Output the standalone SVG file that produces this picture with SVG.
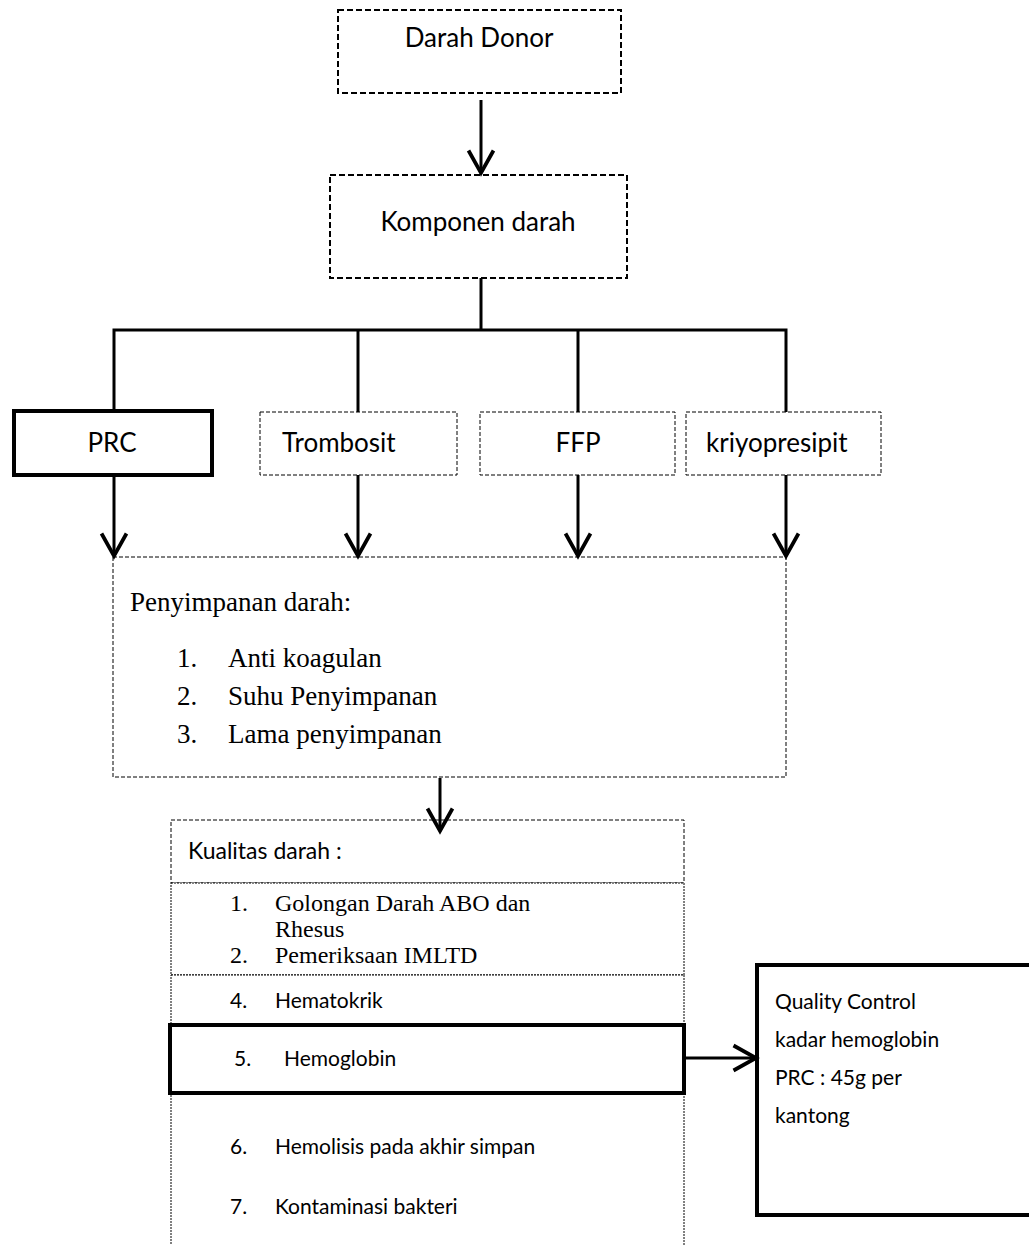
<svg xmlns="http://www.w3.org/2000/svg" width="1029" height="1245" viewBox="0 0 1029 1245">
<style>
.bg{fill:#fff}
.dash2{fill:#fff;stroke:#000;stroke-width:2;stroke-dasharray:6 3}
.dash1{fill:#fff;stroke:#000;stroke-width:1;stroke-dasharray:4 2}
.dot1{fill:#fff;stroke:#000;stroke-width:1;stroke-dasharray:2 1}
.thick{fill:#fff;stroke:#000;stroke-width:4}
.conn{fill:none;stroke:#000;stroke-width:3}
.sans{font-family:Lato,"Open Sans","Liberation Sans",sans-serif;fill:#000}
.serif{font-family:"Liberation Serif","Times New Roman",serif;fill:#000}
.big{font-size:26px}
.mid{font-size:21px}
</style>
<defs>
<marker id="arr" markerUnits="userSpaceOnUse" orient="auto" refX="0" refY="0" markerWidth="30" markerHeight="30" viewBox="-20 -12 22 24" overflow="visible">
<path d="M-18,-10 L0,0 L-18,10" fill="none" stroke="#000" stroke-width="3"/>
</marker>
</defs>
<rect class="bg" x="0" y="0" width="1029" height="1245"/>

<g id="darah-donor">
<rect class="dash2" x="338" y="10" width="283" height="83"/>
<text class="sans big" x="479" y="47" text-anchor="middle">Darah Donor</text>
</g>
<g id="komponen-darah">
<rect class="dash2" x="330" y="175" width="297" height="103"/>
<text class="sans big" x="478" y="231" text-anchor="middle">Komponen darah</text>
</g>
<g id="prc">
<rect class="thick" x="14" y="411" width="198" height="64"/>
<text class="sans big" x="112" y="452" text-anchor="middle">PRC</text>
</g>
<g id="trombosit">
<rect class="dash1" x="260" y="412" width="197" height="63"/>
<text class="sans big" x="282" y="452">Trombosit</text>
</g>
<g id="ffp">
<rect class="dash1" x="480" y="412" width="195" height="63"/>
<text class="sans big" x="578" y="452" text-anchor="middle">FFP</text>
</g>
<g id="kriyopresipit">
<rect class="dash1" x="686" y="412" width="195" height="63"/>
<text class="sans big" x="706" y="452">kriyopresipit</text>
</g>
<g id="penyimpanan">
<rect class="dash1" x="113" y="557" width="673" height="220"/>
<text class="serif" font-size="27" x="130" y="611">Penyimpanan darah:</text>
<text class="serif" font-size="27" x="177" y="667">1.</text>
<text class="serif" font-size="27" x="228" y="667">Anti koagulan</text>
<text class="serif" font-size="27" x="177" y="705">2.</text>
<text class="serif" font-size="27" x="228" y="705">Suhu Penyimpanan</text>
<text class="serif" font-size="27" x="177" y="743">3.</text>
<text class="serif" font-size="27" x="228" y="743">Lama penyimpanan</text>
</g>
<g id="kualitas">
<rect class="dash1" x="171" y="820" width="513" height="63"/>
<text class="sans" font-size="23" x="188" y="859">Kualitas darah :</text>
</g>
<g id="kualitas-1-2">
<rect class="dot1" x="171" y="883" width="513" height="92"/>
<text class="serif" font-size="24" x="230" y="911">1.</text>
<text class="serif" font-size="24" x="275" y="911">Golongan Darah ABO dan</text>
<text class="serif" font-size="24" x="275" y="937">Rhesus</text>
<text class="serif" font-size="24" x="230" y="963">2.</text>
<text class="serif" font-size="24" x="275" y="963">Pemeriksaan IMLTD</text>
</g>
<g id="kualitas-4">
<rect class="dot1" x="171" y="975" width="513" height="50"/>
<text class="sans mid" x="230" y="1008">4.</text>
<text class="sans mid" x="275" y="1008">Hematokrik</text>
</g>
<g id="kualitas-6-7">
<rect class="dot1" x="171" y="1093" width="513" height="170"/>
<text class="sans mid" x="230" y="1154">6.</text>
<text class="sans mid" x="275" y="1154">Hemolisis pada akhir simpan</text>
<text class="sans mid" x="230" y="1214">7.</text>
<text class="sans mid" x="275" y="1214">Kontaminasi bakteri</text>
</g>
<g id="hemoglobin">
<rect class="thick" x="170" y="1025" width="514" height="68"/>
<text class="sans mid" x="234" y="1066">5.</text>
<text class="sans mid" x="284" y="1066">Hemoglobin</text>
</g>
<g id="quality-control">
<rect class="thick" x="757" y="965" width="290" height="250"/>
<text class="sans mid" x="775" y="1009">Quality Control</text>
<text class="sans mid" x="775" y="1047">kadar hemoglobin</text>
<text class="sans mid" x="775" y="1085">PRC : 45g per</text>
<text class="sans mid" x="775" y="1123">kantong</text>
</g>

<g id="connectors">
<line class="conn" x1="481" y1="100" x2="481" y2="173" marker-end="url(#arr)"/>
<polyline class="conn" points="481,278 481,330"/>
<polyline class="conn" points="114,410 114,330 786,330 786,412"/>
<line class="conn" x1="358" y1="330" x2="358" y2="412"/>
<line class="conn" x1="578" y1="330" x2="578" y2="412"/>
<line class="conn" x1="114" y1="475" x2="114" y2="556" marker-end="url(#arr)"/>
<line class="conn" x1="358" y1="475" x2="358" y2="556" marker-end="url(#arr)"/>
<line class="conn" x1="578" y1="475" x2="578" y2="556" marker-end="url(#arr)"/>
<line class="conn" x1="786" y1="475" x2="786" y2="556" marker-end="url(#arr)"/>
<line class="conn" x1="440" y1="778" x2="440" y2="831" marker-end="url(#arr)"/>
<line class="conn" x1="684" y1="1058" x2="756" y2="1058" marker-end="url(#arr)"/>
</g>
</svg>
